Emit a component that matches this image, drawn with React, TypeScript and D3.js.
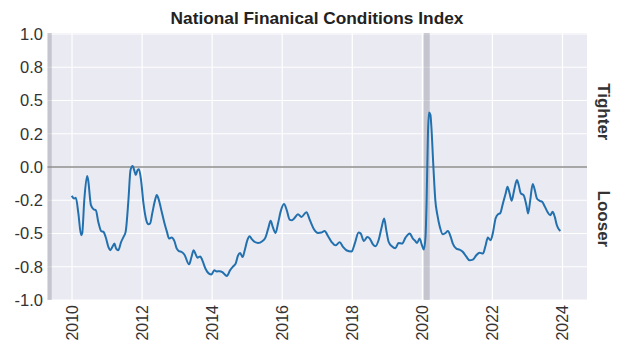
import React from "react";
import * as d3 from "d3";

const dates: number[] = [
  2009.99, 2010.06, 2010.11, 2010.18, 2010.26, 2010.29, 2010.35, 2010.43, 2010.46, 2010.54,
  2010.62, 2010.68, 2010.75, 2010.83, 2010.90, 2010.96, 2011.04, 2011.09, 2011.15, 2011.21,
  2011.26, 2011.32, 2011.40, 2011.47, 2011.53, 2011.61, 2011.67, 2011.73, 2011.78, 2011.82,
  2011.87, 2011.91, 2011.97, 2012.04, 2012.12, 2012.18, 2012.23, 2012.29, 2012.37, 2012.42,
  2012.48, 2012.56, 2012.63, 2012.71, 2012.77, 2012.84, 2012.92, 2012.99, 2013.05, 2013.13,
  2013.21,
  2013.34, 2013.41, 2013.47, 2013.53, 2013.58, 2013.66, 2013.72, 2013.81, 2013.91, 2013.98,
  2014.06, 2014.13, 2014.21, 2014.29, 2014.36, 2014.42, 2014.51, 2014.60, 2014.67, 2014.74,
  2014.80, 2014.87, 2014.93, 2015.01, 2015.07, 2015.12, 2015.22, 2015.31, 2015.43, 2015.52,
  2015.60, 2015.67, 2015.73, 2015.81, 2015.88, 2015.96, 2016.05, 2016.13, 2016.21, 2016.28, 2016.34,
  2016.45, 2016.55, 2016.69, 2016.79, 2016.91, 2017.02, 2017.12, 2017.21, 2017.31, 2017.41,
  2017.52, 2017.64, 2017.74, 2017.83, 2017.98, 2018.07, 2018.18, 2018.24, 2018.33, 2018.43,
  2018.50, 2018.59, 2018.66, 2018.75, 2018.83, 2018.91, 2018.97, 2019.04, 2019.13, 2019.23,
  2019.32, 2019.42, 2019.52, 2019.64, 2019.73,
  2019.78, 2019.85, 2019.92, 2019.99, 2020.04, 2020.09, 2020.12, 2020.16, 2020.19, 2020.23,
  2020.26, 2020.31, 2020.37, 2020.43, 2020.50, 2020.58, 2020.66, 2020.73, 2020.81, 2020.87,
  2020.97, 2021.06, 2021.16, 2021.25, 2021.35, 2021.44, 2021.54, 2021.63, 2021.73,
  2021.80, 2021.87, 2021.95, 2022.01, 2022.09, 2022.16, 2022.22, 2022.30, 2022.38, 2022.43,
  2022.49, 2022.55, 2022.62, 2022.70, 2022.75, 2022.81, 2022.89, 2022.97, 2023.02, 2023.08,
  2023.15, 2023.21, 2023.27, 2023.35, 2023.42, 2023.50, 2023.57, 2023.65, 2023.72, 2023.78,
  2023.84, 2023.90, 2023.94,
];

const nfci: number[] = [
  -0.217, -0.236, -0.232, -0.347, -0.513, -0.500, -0.249, -0.068, -0.098, -0.287,
  -0.319, -0.325, -0.413, -0.481, -0.488, -0.526, -0.602, -0.626, -0.602, -0.576,
  -0.614, -0.626, -0.564, -0.526, -0.488, -0.249, -0.023, 0.008, -0.028, -0.060,
  -0.023, -0.017, -0.098, -0.274, -0.400, -0.430, -0.425, -0.349, -0.249, -0.211,
  -0.249, -0.337, -0.413, -0.488, -0.538, -0.531, -0.556, -0.614, -0.632, -0.639,
  -0.660,
  -0.732, -0.677, -0.626, -0.657, -0.682, -0.672, -0.702, -0.765, -0.802, -0.808,
  -0.777, -0.785, -0.783, -0.790, -0.808, -0.820, -0.777, -0.747, -0.727, -0.664,
  -0.647, -0.677, -0.626, -0.546, -0.521, -0.538, -0.564, -0.571, -0.558, -0.531,
  -0.463, -0.405, -0.451, -0.496, -0.425, -0.330, -0.279, -0.325, -0.395, -0.400, -0.387,
  -0.355, -0.375, -0.340, -0.400, -0.470, -0.496, -0.493, -0.481, -0.521, -0.564,
  -0.589, -0.566, -0.602, -0.626, -0.636, -0.576, -0.493, -0.500, -0.556, -0.526,
  -0.538, -0.581, -0.596, -0.551, -0.463, -0.387, -0.475, -0.564, -0.596, -0.611,
  -0.571, -0.576, -0.531, -0.500, -0.538,
  -0.551, -0.571, -0.538, -0.589, -0.621, -0.526, -0.274, 0.254, 0.410, 0.392,
  0.292, 0.028, -0.249, -0.362, -0.451, -0.506, -0.496, -0.481, -0.526, -0.576,
  -0.614, -0.621, -0.639, -0.672, -0.702, -0.697, -0.664, -0.644, -0.651,
  -0.596, -0.531, -0.551, -0.500, -0.387, -0.355, -0.349, -0.274, -0.198, -0.149,
  -0.198, -0.254, -0.174, -0.098, -0.136, -0.198, -0.211, -0.287, -0.349, -0.249,
  -0.128, -0.174, -0.236, -0.254, -0.262, -0.300, -0.337, -0.362, -0.337, -0.375,
  -0.438, -0.470, -0.481,
];

const yTicks: number[] = [-1, -0.75, -0.5, -0.25, 0, 0.25, 0.5, 0.75, 1];
const yTickLabels: string[] = ["-1.0", "-0.8", "-0.5", "-0.2", "0.0", "0.2", "0.5", "0.8", "1.0"];
const xTicks: number[] = [2010, 2012, 2014, 2016, 2018, 2020, 2022, 2024];
const recessions: [number, number][] = [
  [2007.92, 2009.42],
  [2020.04, 2020.21],
];
const title = "National Finanical Conditions Index";
const sideLabels: { text: string; value: number }[] = [
  { text: "Tighter", value: 0.415 },
  { text: "Looser", value: -0.39 },
];

const W = 624;
const H = 357;
const L = 47.5;
const R = 587;
const T = 34;
const B = 300;
const FONT = "'Liberation Sans', Arial, Helvetica, sans-serif";

export default function App() {
  const x = d3.scaleLinear().domain([2009.3, 2024.7]).range([L, R]);
  const y = d3.scaleLinear().domain([-1, 1]).range([B, T]);
  const line = d3
    .line<number>()
    .x((_, i) => x(dates[i]))
    .y((v) => y(v))
    .curve(d3.curveMonotoneX);

  return (
    <svg
      width={W}
      height={H}
      style={{ position: "fixed", left: 0, top: 0, background: "#fff" }}
      fontFamily={FONT}
    >
      <defs>
        <clipPath id="plotclip">
          <rect x={L} y={T - 1} width={R - L} height={B - T + 1} />
        </clipPath>
      </defs>
      <rect x={L} y={T - 1} width={R - L} height={B - T + 1} fill="#EAEAF2" />
      {yTicks.map((t) => (
        <line key={"gy" + t} x1={L} x2={R} y1={y(t)} y2={y(t)} stroke="#fff" strokeWidth={1.2} />
      ))}
      {xTicks.map((t) => (
        <line key={"gx" + t} x1={x(t)} x2={x(t)} y1={T - 1} y2={B} stroke="#fff" strokeWidth={1.2} />
      ))}
      <g clipPath="url(#plotclip)">
        {recessions.map(([a, b], i) => (
          <rect
            key={"r" + i}
            x={x(a)}
            y={T - 1}
            width={x(b) - x(a)}
            height={B - T + 1}
            fill="#9a9aa6"
            opacity={0.45}
          />
        ))}
      </g>
      <line x1={L} x2={R} y1={y(0)} y2={y(0)} stroke="#8c8c8c" strokeWidth={1.3} />
      <path d={line(nfci) || ""} fill="none" stroke="#2270ae" strokeWidth={2} clipPath="url(#plotclip)" />
      {yTicks.map((t, i) => (
        <text
          key={"ly" + t}
          x={43}
          y={y(t)}
          dy="0.36em"
          textAnchor="end"
          fontSize={16.5}
          fill="#333"
        >
          {yTickLabels[i]}
        </text>
      ))}
      {xTicks.map((t) => (
        <text
          key={"lx" + t}
          transform={`translate(${x(t)},${305}) rotate(-90)`}
          dy="0.36em"
          textAnchor="end"
          fontSize={16}
          fill="#333"
        >
          {t}
        </text>
      ))}
      <text x={317} y={24} textAnchor="middle" fontSize={17.3} fontWeight="bold" fill="#222">
        {title}
      </text>
      {sideLabels.map((s) => (
        <text
          key={s.text}
          transform={`translate(${604},${y(s.value)}) rotate(90)`}
          dy="0.36em"
          textAnchor="middle"
          fontSize={17}
          fontWeight="bold"
          fill="#333"
        >
          {s.text}
        </text>
      ))}
    </svg>
  );
}
